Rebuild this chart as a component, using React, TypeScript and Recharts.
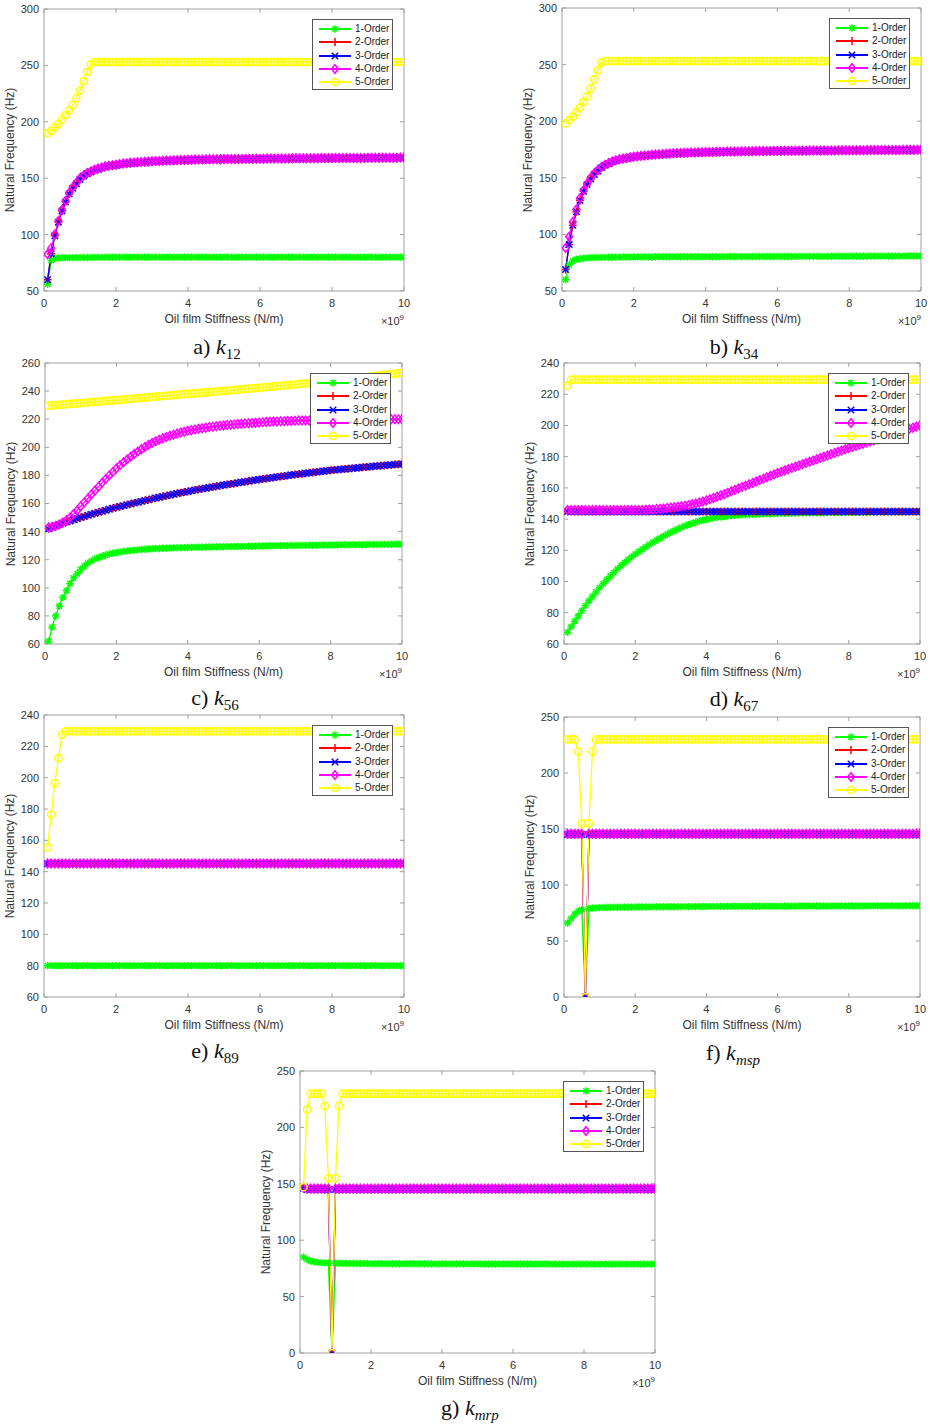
import React from 'react';
import { LineChart, Line, XAxis, YAxis } from 'recharts';

// Oil film stiffness (×10^9 N/m)
const X = [
  0.1, 0.2, 0.3, 0.4, 0.5, 0.6, 0.7, 0.8, 0.9, 1,
  1.1, 1.2, 1.3, 1.4, 1.5, 1.6, 1.7, 1.8, 1.9, 2,
  2.1, 2.2, 2.3, 2.4, 2.5, 2.6, 2.7, 2.8, 2.9, 3,
  3.1, 3.2, 3.3, 3.4, 3.5, 3.6, 3.7, 3.8, 3.9, 4,
  4.1, 4.2, 4.3, 4.4, 4.5, 4.6, 4.7, 4.8, 4.9, 5,
  5.1, 5.2, 5.3, 5.4, 5.5, 5.6, 5.7, 5.8, 5.9, 6,
  6.1, 6.2, 6.3, 6.4, 6.5, 6.6, 6.7, 6.8, 6.9, 7,
  7.1, 7.2, 7.3, 7.4, 7.5, 7.6, 7.7, 7.8, 7.9, 8,
  8.1, 8.2, 8.3, 8.4, 8.5, 8.6, 8.7, 8.8, 8.9, 9,
  9.1, 9.2, 9.3, 9.4, 9.5, 9.6, 9.7, 9.8, 9.9, 10,
];

const X_TICKS = [0, 2, 4, 6, 8, 10];
const Y_TICKS_50_300 = [50, 100, 150, 200, 250, 300];
const Y_TICKS_60_260 = [60, 80, 100, 120, 140, 160, 180, 200, 220, 240, 260];
const Y_TICKS_60_240 = [60, 80, 100, 120, 140, 160, 180, 200, 220, 240];
const Y_TICKS_0_250 = [0, 50, 100, 150, 200, 250];

const SERIES_NAMES = ['1-Order', '2-Order', '3-Order', '4-Order', '5-Order'];

// ---------- a) k12 ----------
const K12_G = [
  56, 77, 79, 79.3, 79.5, 79.5, 79.6, 79.6, 79.6, 79.7,
  79.7, 79.7, 79.8, 79.8, 79.8, 79.8, 79.9, 79.9, 79.9, 80,
  80, 80, 80, 80, 80, 80, 80, 80, 80, 80,
  80, 80, 80, 80, 80, 80, 80, 80, 80, 80,
  80, 80, 80, 80, 80, 80, 80, 80, 80, 80,
  80, 80, 80, 80, 80, 80, 80, 80, 80, 80,
  80, 80, 80, 80, 80, 80, 80, 80, 80, 80,
  80, 80, 80, 80, 80, 80, 80, 80, 80, 80,
  80, 80, 80, 80, 80, 80, 80, 80, 80, 80,
  80, 80, 80, 80, 80, 80, 80, 80, 80, 80,
];
const K12_RB = [
  60, 83, 99, 111, 121, 129, 136, 141, 145, 149,
  152, 154, 155.5, 157, 158, 159, 160, 160.5, 161, 161.5,
  162, 162.5, 162.8, 163.1, 163.4, 163.7, 163.9, 164.1, 164.3, 164.5,
  164.7, 164.8, 165, 165.1, 165.3, 165.4, 165.5, 165.6, 165.7, 165.8,
  165.9, 166, 166.1, 166.1, 166.2, 166.3, 166.3, 166.4, 166.4, 166.5,
  166.5, 166.5, 166.6, 166.6, 166.6, 166.7, 166.7, 166.7, 166.8, 166.8,
  166.8, 166.9, 166.9, 166.9, 167, 167, 167, 167, 167.1, 167.1,
  167.1, 167.1, 167.2, 167.2, 167.2, 167.2, 167.3, 167.3, 167.3, 167.3,
  167.4, 167.4, 167.4, 167.4, 167.5, 167.5, 167.5, 167.5, 167.5, 167.6,
  167.6, 167.6, 167.6, 167.6, 167.7, 167.7, 167.7, 167.7, 167.8, 167.8,
];
const K12_M = [
  82.5, 88, 100, 112, 122, 130, 137, 142, 146, 150,
  152.5, 154.5, 156, 157.5, 158.5, 159.5, 160.5, 161, 161.5, 162,
  162.5, 163, 163.3, 163.6, 163.9, 164.2, 164.4, 164.6, 164.8, 165,
  165.2, 165.3, 165.5, 165.6, 165.8, 165.9, 166, 166.1, 166.2, 166.3,
  166.4, 166.5, 166.6, 166.6, 166.7, 166.8, 166.8, 166.9, 166.9, 167,
  167, 167, 167.1, 167.1, 167.1, 167.2, 167.2, 167.2, 167.3, 167.3,
  167.3, 167.4, 167.4, 167.4, 167.5, 167.5, 167.5, 167.5, 167.6, 167.6,
  167.6, 167.6, 167.7, 167.7, 167.7, 167.7, 167.8, 167.8, 167.8, 167.8,
  167.9, 167.9, 167.9, 167.9, 168, 168, 168, 168, 168, 168.1,
  168.1, 168.1, 168.1, 168.1, 168.2, 168.2, 168.2, 168.2, 168.3, 168.3,
];
const K12_Y = [
  190, 192, 195, 198, 202, 206, 210, 215, 221, 228,
  236, 244, 251, 253, 253, 253, 253, 253, 253, 253,
  253, 253, 253, 253, 253, 253, 253, 253, 253, 253,
  253, 253, 253, 253, 253, 253, 253, 253, 253, 253,
  253, 253, 253, 253, 253, 253, 253, 253, 253, 253,
  253, 253, 253, 253, 253, 253, 253, 253, 253, 253,
  253, 253, 253, 253, 253, 253, 253, 253, 253, 253,
  253, 253, 253, 253, 253, 253, 253, 253, 253, 253,
  253, 253, 253, 253, 253, 253, 253, 253, 253, 253,
  253, 253, 253, 253, 253, 253, 253, 253, 253, 253,
];

// ---------- b) k34 ----------
const K34_G = [
  60, 73, 76.5, 78, 78.5, 79, 79.2, 79.4, 79.5, 79.6,
  79.7, 79.7, 79.8, 79.8, 79.9, 79.9, 80, 80, 80, 80,
  80.1, 80.1, 80.1, 80.1, 80.1, 80.2, 80.2, 80.2, 80.2, 80.2,
  80.2, 80.2, 80.2, 80.2, 80.2, 80.3, 80.3, 80.3, 80.3, 80.3,
  80.3, 80.3, 80.3, 80.3, 80.3, 80.4, 80.4, 80.4, 80.4, 80.4,
  80.4, 80.4, 80.4, 80.4, 80.4, 80.5, 80.5, 80.5, 80.5, 80.5,
  80.5, 80.5, 80.5, 80.5, 80.5, 80.6, 80.6, 80.6, 80.6, 80.6,
  80.6, 80.6, 80.6, 80.6, 80.6, 80.7, 80.7, 80.7, 80.7, 80.7,
  80.7, 80.7, 80.7, 80.7, 80.7, 80.8, 80.8, 80.8, 80.8, 80.8,
  80.8, 80.8, 80.8, 80.8, 80.8, 80.9, 80.9, 80.9, 80.9, 80.9,
];
const K34_RB = [
  69, 91, 108, 120, 130, 138, 144, 149, 153, 156,
  159, 161, 162.5, 164, 165, 165.8, 166.5, 167.1, 167.6, 168.1,
  168.5, 168.9, 169.2, 169.5, 169.8, 170.1, 170.3, 170.5, 170.7, 170.9,
  171.1, 171.3, 171.4, 171.6, 171.7, 171.8, 171.9, 172, 172.1, 172.2,
  172.3, 172.4, 172.5, 172.5, 172.6, 172.7, 172.7, 172.8, 172.8, 172.9,
  172.9, 173, 173, 173.1, 173.1, 173.2, 173.2, 173.2, 173.3, 173.3,
  173.3, 173.4, 173.4, 173.4, 173.5, 173.5, 173.5, 173.5, 173.6, 173.6,
  173.6, 173.6, 173.7, 173.7, 173.7, 173.7, 173.8, 173.8, 173.8, 173.8,
  173.9, 173.9, 173.9, 173.9, 174, 174, 174, 174, 174, 174.1,
  174.1, 174.1, 174.1, 174.1, 174.2, 174.2, 174.2, 174.2, 174.3, 174.3,
];
const K34_M = [
  88, 98, 111, 122, 132, 139, 145, 150, 154, 157,
  159.5, 161.5, 163, 164.5, 165.5, 166.3, 167, 167.6, 168.1, 168.6,
  169, 169.4, 169.7, 170, 170.3, 170.6, 170.8, 171, 171.2, 171.4,
  171.6, 171.8, 171.9, 172.1, 172.2, 172.3, 172.4, 172.5, 172.6, 172.7,
  172.8, 172.9, 173, 173, 173.1, 173.2, 173.2, 173.3, 173.3, 173.4,
  173.4, 173.5, 173.5, 173.6, 173.6, 173.7, 173.7, 173.7, 173.8, 173.8,
  173.8, 173.9, 173.9, 173.9, 174, 174, 174, 174, 174.1, 174.1,
  174.1, 174.1, 174.2, 174.2, 174.2, 174.2, 174.3, 174.3, 174.3, 174.3,
  174.4, 174.4, 174.4, 174.4, 174.5, 174.5, 174.5, 174.5, 174.5, 174.6,
  174.6, 174.6, 174.6, 174.6, 174.7, 174.7, 174.7, 174.7, 174.8, 174.8,
];
const K34_Y = [
  198, 201, 204, 208, 212, 217, 222, 229, 237, 245,
  252, 253, 253, 253, 253, 253, 253, 253, 253, 253,
  253, 253, 253, 253, 253, 253, 253, 253, 253, 253,
  253, 253, 253, 253, 253, 253, 253, 253, 253, 253,
  253, 253, 253, 253, 253, 253, 253, 253, 253, 253,
  253, 253, 253, 253, 253, 253, 253, 253, 253, 253,
  253, 253, 253, 253, 253, 253, 253, 253, 253, 253,
  253, 253, 253, 253, 253, 253, 253, 253, 253, 253,
  253, 253, 253, 253, 253, 253, 253, 253, 253, 253,
  253, 253, 253, 253, 253, 253, 253, 253, 253, 253,
];

// ---------- c) k56 ----------
const K56_G = [
  62, 72, 80, 87, 93, 98, 103, 107, 110, 113,
  115.5, 117.5, 119, 120.5, 121.5, 122.5, 123.3, 124, 124.6, 125.1,
  125.5, 125.9, 126.2, 126.5, 126.8, 127, 127.2, 127.4, 127.6, 127.8,
  127.9, 128, 128.1, 128.2, 128.3, 128.4, 128.5, 128.6, 128.6, 128.7,
  128.8, 128.8, 128.9, 128.9, 129, 129, 129.1, 129.1, 129.2, 129.2,
  129.3, 129.3, 129.4, 129.4, 129.5, 129.5, 129.6, 129.6, 129.7, 129.7,
  129.8, 129.8, 129.9, 129.9, 130, 130, 130, 130.1, 130.1, 130.1,
  130.2, 130.2, 130.2, 130.3, 130.3, 130.3, 130.4, 130.4, 130.4, 130.5,
  130.5, 130.5, 130.6, 130.6, 130.6, 130.7, 130.7, 130.7, 130.7, 130.8,
  130.8, 130.8, 130.8, 130.9, 130.9, 130.9, 130.9, 131, 131, 131,
];
const K56_RB = [
  142, 143, 144, 145, 146, 146.8, 147.6, 148.4, 149.2, 150,
  150.8, 151.6, 152.3, 153, 153.8, 154.5, 155.2, 155.9, 156.6, 157.3,
  157.9, 158.5, 159.1, 159.7, 160.3, 160.9, 161.5, 162.1, 162.7, 163.3,
  163.9, 164.4, 165, 165.5, 166, 166.6, 167.1, 167.6, 168.1, 168.6,
  169.1, 169.6, 170, 170.5, 170.9, 171.4, 171.8, 172.3, 172.7, 173.1,
  173.5, 173.9, 174.3, 174.7, 175.1, 175.5, 175.9, 176.3, 176.7, 177.1,
  177.5, 177.8, 178.2, 178.5, 178.9, 179.2, 179.6, 179.9, 180.3, 180.6,
  180.9, 181.2, 181.5, 181.8, 182.1, 182.4, 182.7, 183, 183.3, 183.6,
  183.8, 184.1, 184.3, 184.6, 184.8, 185.1, 185.3, 185.5, 185.8, 186,
  186.2, 186.5, 186.7, 186.9, 187.1, 187.3, 187.5, 187.7, 187.9, 188.1,
];
const K56_M = [
  143, 143.5, 144, 145, 146.5, 148, 150, 152.5, 155, 158,
  160.8, 163.6, 166.4, 169.2, 172, 174.7, 177.4, 180, 182.5, 185,
  187.2, 189.3, 191.3, 193.3, 195.2, 197, 198.7, 200.3, 201.8, 203.1,
  204.3, 205.4, 206.4, 207.3, 208.2, 209, 209.8, 210.5, 211.1, 211.7,
  212.2, 212.7, 213.2, 213.6, 214, 214.4, 214.7, 215, 215.3, 215.6,
  215.9, 216.1, 216.3, 216.5, 216.7, 216.9, 217.1, 217.3, 217.5, 217.7,
  217.9, 218, 218.1, 218.3, 218.4, 218.5, 218.6, 218.7, 218.8, 218.9,
  219, 219, 219.1, 219.1, 219.2, 219.2, 219.3, 219.3, 219.4, 219.4,
  219.5, 219.5, 219.5, 219.6, 219.6, 219.6, 219.7, 219.7, 219.7, 219.8,
  219.8, 219.8, 219.9, 219.9, 219.9, 220, 220, 220, 220, 220,
];
const K56_Y = [
  229.6, 229.8, 230, 230.2, 230.5, 230.7, 230.9, 231.1, 231.3, 231.5,
  231.7, 232, 232.2, 232.4, 232.6, 232.8, 233, 233.2, 233.4, 233.6,
  233.8, 234, 234.3, 234.5, 234.7, 234.9, 235.1, 235.4, 235.6, 235.8,
  236, 236.2, 236.5, 236.7, 236.9, 237.1, 237.3, 237.6, 237.8, 238,
  238.2, 238.4, 238.6, 238.9, 239.1, 239.3, 239.5, 239.7, 239.9, 240.2,
  240.4, 240.6, 240.8, 241, 241.2, 241.5, 241.7, 241.9, 242.1, 242.4,
  242.6, 242.8, 243.1, 243.3, 243.5, 243.8, 244, 244.2, 244.5, 244.7,
  244.9, 245.2, 245.4, 245.7, 245.9, 246.2, 246.4, 246.7, 246.9, 247.2,
  247.5, 247.7, 248, 248.3, 248.6, 248.8, 249.1, 249.4, 249.7, 250,
  250.3, 250.6, 250.9, 251.2, 251.5, 251.8, 252.1, 252.4, 252.7, 253,
];

// ---------- d) k67 ----------
const K67_G = [
  67.5, 71, 74.5, 78, 81.3, 84.5, 87.6, 90.5, 93.3, 96,
  98.6, 101.1, 103.5, 105.8, 108, 110.1, 112.1, 114, 115.8, 117.5,
  119.1, 120.7, 122.2, 123.7, 125.1, 126.5, 127.8, 129.1, 130.3, 131.5,
  132.6, 133.7, 134.7, 135.6, 136.5, 137.3, 138, 138.7, 139.3, 139.8,
  140.3, 140.7, 141.1, 141.4, 141.7, 142, 142.2, 142.4, 142.6, 142.8,
  142.9, 143, 143.1, 143.2, 143.3, 143.4, 143.5, 143.5, 143.6, 143.6,
  143.7, 143.7, 143.8, 143.8, 143.9, 143.9, 144, 144, 144, 144.1,
  144.1, 144.1, 144.1, 144.2, 144.2, 144.2, 144.2, 144.3, 144.3, 144.3,
  144.3, 144.3, 144.4, 144.4, 144.4, 144.4, 144.5, 144.5, 144.5, 144.5,
  144.5, 144.5, 144.5, 144.6, 144.6, 144.6, 144.6, 144.7, 144.7, 144.7,
];
const K67_RB = [
  144.8, 144.8, 144.8, 144.8, 144.8, 144.8, 144.8, 144.8, 144.8, 144.8,
  144.8, 144.8, 144.8, 144.8, 144.8, 144.8, 144.8, 144.8, 144.8, 144.8,
  144.8, 144.8, 144.8, 144.8, 144.8, 144.8, 144.8, 144.8, 144.8, 144.8,
  144.8, 144.8, 144.8, 144.8, 144.8, 144.8, 144.8, 144.8, 144.8, 144.8,
  144.8, 144.8, 144.8, 144.8, 144.8, 144.8, 144.8, 144.8, 144.8, 144.8,
  144.8, 144.8, 144.8, 144.8, 144.8, 144.8, 144.8, 144.8, 144.8, 144.8,
  144.8, 144.8, 144.8, 144.8, 144.8, 144.8, 144.8, 144.8, 144.8, 144.8,
  144.8, 144.8, 144.8, 144.8, 144.8, 144.8, 144.8, 144.8, 144.8, 144.8,
  144.8, 144.8, 144.8, 144.8, 144.8, 144.8, 144.8, 144.8, 144.8, 144.8,
  144.8, 144.8, 144.8, 144.8, 144.8, 144.8, 144.8, 144.8, 144.8, 144.8,
];
const K67_M = [
  145.8, 145.8, 145.8, 145.8, 145.8, 145.8, 145.8, 145.8, 145.8, 145.8,
  145.8, 145.8, 145.8, 145.8, 145.8, 145.8, 145.8, 145.8, 145.8, 145.8,
  145.8, 145.9, 146, 146.1, 146.2, 146.4, 146.6, 146.8, 147.1, 147.4,
  147.6, 147.9, 148.2, 148.6, 149, 149.5, 150, 150.6, 151.3, 152,
  152.8, 153.6, 154.4, 155.2, 156, 156.9, 157.8, 158.7, 159.6, 160.5,
  161.4, 162.3, 163.2, 164.1, 165, 165.9, 166.8, 167.7, 168.6, 169.5,
  170.3, 171.1, 171.9, 172.7, 173.5, 174.3, 175.1, 175.9, 176.7, 177.5,
  178.3, 179.1, 179.9, 180.7, 181.5, 182.3, 183.1, 183.9, 184.7, 185.5,
  186.2, 186.9, 187.6, 188.3, 189, 189.7, 190.4, 191.1, 191.8, 192.5,
  193.3, 194.1, 194.9, 195.7, 196.5, 197.2, 197.9, 198.6, 199.3, 200,
];
const K67_Y = [
  225.5, 229.3, 229.3, 229.3, 229.3, 229.3, 229.3, 229.3, 229.3, 229.3,
  229.3, 229.3, 229.3, 229.3, 229.3, 229.3, 229.3, 229.3, 229.3, 229.3,
  229.3, 229.3, 229.3, 229.3, 229.3, 229.3, 229.3, 229.3, 229.3, 229.3,
  229.3, 229.3, 229.3, 229.3, 229.3, 229.3, 229.3, 229.3, 229.3, 229.3,
  229.3, 229.3, 229.3, 229.3, 229.3, 229.3, 229.3, 229.3, 229.3, 229.3,
  229.3, 229.3, 229.3, 229.3, 229.3, 229.3, 229.3, 229.3, 229.3, 229.3,
  229.3, 229.3, 229.3, 229.3, 229.3, 229.3, 229.3, 229.3, 229.3, 229.3,
  229.3, 229.3, 229.3, 229.3, 229.3, 229.3, 229.3, 229.3, 229.3, 229.3,
  229.3, 229.3, 229.3, 229.3, 229.3, 229.3, 229.3, 229.3, 229.3, 229.3,
  229.3, 229.3, 229.3, 229.3, 229.3, 229.3, 229.3, 229.3, 229.3, 229.3,
];

// ---------- e) k89 ----------
const K89_G = [
  80, 80, 80, 80, 80, 80, 80, 80, 80, 80,
  80, 80, 80, 80, 80, 80, 80, 80, 80, 80,
  80, 80, 80, 80, 80, 80, 80, 80, 80, 80,
  80, 80, 80, 80, 80, 80, 80, 80, 80, 80,
  80, 80, 80, 80, 80, 80, 80, 80, 80, 80,
  80, 80, 80, 80, 80, 80, 80, 80, 80, 80,
  80, 80, 80, 80, 80, 80, 80, 80, 80, 80,
  80, 80, 80, 80, 80, 80, 80, 80, 80, 80,
  80, 80, 80, 80, 80, 80, 80, 80, 80, 80,
  80, 80, 80, 80, 80, 80, 80, 80, 80, 80,
];
const K89_RB = [
  145, 145, 145, 145, 145, 145, 145, 145, 145, 145,
  145, 145, 145, 145, 145, 145, 145, 145, 145, 145,
  145, 145, 145, 145, 145, 145, 145, 145, 145, 145,
  145, 145, 145, 145, 145, 145, 145, 145, 145, 145,
  145, 145, 145, 145, 145, 145, 145, 145, 145, 145,
  145, 145, 145, 145, 145, 145, 145, 145, 145, 145,
  145, 145, 145, 145, 145, 145, 145, 145, 145, 145,
  145, 145, 145, 145, 145, 145, 145, 145, 145, 145,
  145, 145, 145, 145, 145, 145, 145, 145, 145, 145,
  145, 145, 145, 145, 145, 145, 145, 145, 145, 145,
];
const K89_M = [
  145.2, 145.2, 145.2, 145.2, 145.2, 145.2, 145.2, 145.2, 145.2, 145.2,
  145.2, 145.2, 145.2, 145.2, 145.2, 145.2, 145.2, 145.2, 145.2, 145.2,
  145.2, 145.2, 145.2, 145.2, 145.2, 145.2, 145.2, 145.2, 145.2, 145.2,
  145.2, 145.2, 145.2, 145.2, 145.2, 145.2, 145.2, 145.2, 145.2, 145.2,
  145.2, 145.2, 145.2, 145.2, 145.2, 145.2, 145.2, 145.2, 145.2, 145.2,
  145.2, 145.2, 145.2, 145.2, 145.2, 145.2, 145.2, 145.2, 145.2, 145.2,
  145.2, 145.2, 145.2, 145.2, 145.2, 145.2, 145.2, 145.2, 145.2, 145.2,
  145.2, 145.2, 145.2, 145.2, 145.2, 145.2, 145.2, 145.2, 145.2, 145.2,
  145.2, 145.2, 145.2, 145.2, 145.2, 145.2, 145.2, 145.2, 145.2, 145.2,
  145.2, 145.2, 145.2, 145.2, 145.2, 145.2, 145.2, 145.2, 145.2, 145.2,
];
const K89_Y = [
  155.5, 176.5, 196.5, 212.5, 227.5, 229.6, 229.6, 229.6, 229.6, 229.6,
  229.6, 229.6, 229.6, 229.6, 229.6, 229.6, 229.6, 229.6, 229.6, 229.6,
  229.6, 229.6, 229.6, 229.6, 229.6, 229.6, 229.6, 229.6, 229.6, 229.6,
  229.6, 229.6, 229.6, 229.6, 229.6, 229.6, 229.6, 229.6, 229.6, 229.6,
  229.6, 229.6, 229.6, 229.6, 229.6, 229.6, 229.6, 229.6, 229.6, 229.6,
  229.6, 229.6, 229.6, 229.6, 229.6, 229.6, 229.6, 229.6, 229.6, 229.6,
  229.6, 229.6, 229.6, 229.6, 229.6, 229.6, 229.6, 229.6, 229.6, 229.6,
  229.6, 229.6, 229.6, 229.6, 229.6, 229.6, 229.6, 229.6, 229.6, 229.6,
  229.6, 229.6, 229.6, 229.6, 229.6, 229.6, 229.6, 229.6, 229.6, 229.6,
  229.6, 229.6, 229.6, 229.6, 229.6, 229.6, 229.6, 229.6, 229.6, 229.6,
];

// ---------- f) kmsp ----------
const KMSP_G = [
  66, 70, 74, 76.5, 78, 0, 79, 79.4, 79.6, 79.8,
  79.9, 80, 80, 80.1, 80.1, 80.2, 80.2, 80.2, 80.3, 80.3,
  80.3, 80.4, 80.4, 80.4, 80.5, 80.5, 80.5, 80.5, 80.6, 80.6,
  80.6, 80.6, 80.7, 80.7, 80.7, 80.7, 80.8, 80.8, 80.8, 80.8,
  80.9, 80.9, 80.9, 80.9, 80.9, 81, 81, 81, 81, 81,
  81, 81, 81, 81, 81, 81.1, 81.1, 81.1, 81.1, 81.1,
  81.1, 81.1, 81.1, 81.1, 81.1, 81.2, 81.2, 81.2, 81.2, 81.2,
  81.2, 81.2, 81.2, 81.2, 81.2, 81.3, 81.3, 81.3, 81.3, 81.3,
  81.3, 81.3, 81.3, 81.3, 81.3, 81.4, 81.4, 81.4, 81.4, 81.4,
  81.4, 81.4, 81.4, 81.4, 81.4, 81.5, 81.5, 81.5, 81.5, 81.5,
];
const KMSP_RB = [
  145, 145, 145, 145, 145, 0, 145, 145, 145, 145,
  145, 145, 145, 145, 145, 145, 145, 145, 145, 145,
  145, 145, 145, 145, 145, 145, 145, 145, 145, 145,
  145, 145, 145, 145, 145, 145, 145, 145, 145, 145,
  145, 145, 145, 145, 145, 145, 145, 145, 145, 145,
  145, 145, 145, 145, 145, 145, 145, 145, 145, 145,
  145, 145, 145, 145, 145, 145, 145, 145, 145, 145,
  145, 145, 145, 145, 145, 145, 145, 145, 145, 145,
  145, 145, 145, 145, 145, 145, 145, 145, 145, 145,
  145, 145, 145, 145, 145, 145, 145, 145, 145, 145,
];
const KMSP_M = [
  145.8, 145.8, 145.8, 145.8, 145.8, 0, 145.8, 145.8, 145.8, 145.8,
  145.8, 145.8, 145.8, 145.8, 145.8, 145.8, 145.8, 145.8, 145.8, 145.8,
  145.8, 145.8, 145.8, 145.8, 145.8, 145.8, 145.8, 145.8, 145.8, 145.8,
  145.8, 145.8, 145.8, 145.8, 145.8, 145.8, 145.8, 145.8, 145.8, 145.8,
  145.8, 145.8, 145.8, 145.8, 145.8, 145.8, 145.8, 145.8, 145.8, 145.8,
  145.8, 145.8, 145.8, 145.8, 145.8, 145.8, 145.8, 145.8, 145.8, 145.8,
  145.8, 145.8, 145.8, 145.8, 145.8, 145.8, 145.8, 145.8, 145.8, 145.8,
  145.8, 145.8, 145.8, 145.8, 145.8, 145.8, 145.8, 145.8, 145.8, 145.8,
  145.8, 145.8, 145.8, 145.8, 145.8, 145.8, 145.8, 145.8, 145.8, 145.8,
  145.8, 145.8, 145.8, 145.8, 145.8, 145.8, 145.8, 145.8, 145.8, 145.8,
];
const KMSP_Y = [
  230, 230, 230, 219, 155, 0, 155, 219, 230, 230,
  230, 230, 230, 230, 230, 230, 230, 230, 230, 230,
  230, 230, 230, 230, 230, 230, 230, 230, 230, 230,
  230, 230, 230, 230, 230, 230, 230, 230, 230, 230,
  230, 230, 230, 230, 230, 230, 230, 230, 230, 230,
  230, 230, 230, 230, 230, 230, 230, 230, 230, 230,
  230, 230, 230, 230, 230, 230, 230, 230, 230, 230,
  230, 230, 230, 230, 230, 230, 230, 230, 230, 230,
  230, 230, 230, 230, 230, 230, 230, 230, 230, 230,
  230, 230, 230, 230, 230, 230, 230, 230, 230, 230,
];

// ---------- g) kmrp ----------
const KMRP_G = [
  85, 83, 81.5, 80.8, 80.4, 80.1, 79.9, 79.8, 0, 79.6,
  79.5, 79.5, 79.4, 79.4, 79.4, 79.3, 79.3, 79.3, 79.3, 79.2,
  79.2, 79.2, 79.2, 79.2, 79.2, 79.1, 79.1, 79.1, 79.1, 79.1,
  79.1, 79.1, 79.1, 79.1, 79.1, 79, 79, 79, 79, 79,
  79, 79, 79, 79, 79, 79, 79, 79, 79, 79,
  78.9, 78.9, 78.9, 78.9, 78.9, 78.9, 78.9, 78.9, 78.9, 78.9,
  78.9, 78.9, 78.9, 78.9, 78.9, 78.9, 78.9, 78.9, 78.9, 78.9,
  78.8, 78.8, 78.8, 78.8, 78.8, 78.8, 78.8, 78.8, 78.8, 78.8,
  78.8, 78.8, 78.8, 78.8, 78.8, 78.8, 78.8, 78.8, 78.8, 78.8,
  78.8, 78.8, 78.8, 78.8, 78.8, 78.8, 78.8, 78.8, 78.8, 78.8,
];
const KMRP_RB = [
  146, 145, 145, 145, 145, 145, 145, 145, 0, 145,
  145, 145, 145, 145, 145, 145, 145, 145, 145, 145,
  145, 145, 145, 145, 145, 145, 145, 145, 145, 145,
  145, 145, 145, 145, 145, 145, 145, 145, 145, 145,
  145, 145, 145, 145, 145, 145, 145, 145, 145, 145,
  145, 145, 145, 145, 145, 145, 145, 145, 145, 145,
  145, 145, 145, 145, 145, 145, 145, 145, 145, 145,
  145, 145, 145, 145, 145, 145, 145, 145, 145, 145,
  145, 145, 145, 145, 145, 145, 145, 145, 145, 145,
  145, 145, 145, 145, 145, 145, 145, 145, 145, 145,
];
const KMRP_M = [
  146.5, 145.8, 145.8, 145.8, 145.8, 145.8, 145.8, 145.8, 0, 145.8,
  145.8, 145.8, 145.8, 145.8, 145.8, 145.8, 145.8, 145.8, 145.8, 145.8,
  145.8, 145.8, 145.8, 145.8, 145.8, 145.8, 145.8, 145.8, 145.8, 145.8,
  145.8, 145.8, 145.8, 145.8, 145.8, 145.8, 145.8, 145.8, 145.8, 145.8,
  145.8, 145.8, 145.8, 145.8, 145.8, 145.8, 145.8, 145.8, 145.8, 145.8,
  145.8, 145.8, 145.8, 145.8, 145.8, 145.8, 145.8, 145.8, 145.8, 145.8,
  145.8, 145.8, 145.8, 145.8, 145.8, 145.8, 145.8, 145.8, 145.8, 145.8,
  145.8, 145.8, 145.8, 145.8, 145.8, 145.8, 145.8, 145.8, 145.8, 145.8,
  145.8, 145.8, 145.8, 145.8, 145.8, 145.8, 145.8, 145.8, 145.8, 145.8,
  145.8, 145.8, 145.8, 145.8, 145.8, 145.8, 145.8, 145.8, 145.8, 145.8,
];
const KMRP_Y = [
  147, 216, 230, 230, 230, 230, 219, 155, 0, 155,
  219, 230, 230, 230, 230, 230, 230, 230, 230, 230,
  230, 230, 230, 230, 230, 230, 230, 230, 230, 230,
  230, 230, 230, 230, 230, 230, 230, 230, 230, 230,
  230, 230, 230, 230, 230, 230, 230, 230, 230, 230,
  230, 230, 230, 230, 230, 230, 230, 230, 230, 230,
  230, 230, 230, 230, 230, 230, 230, 230, 230, 230,
  230, 230, 230, 230, 230, 230, 230, 230, 230, 230,
  230, 230, 230, 230, 230, 230, 230, 230, 230, 230,
  230, 230, 230, 230, 230, 230, 230, 230, 230, 230,
];

// ---------- styling ----------
const COLORS = { g: '#00ff00', r: '#ff0000', b: '#0000ff', m: '#ff00ff', y: '#ffff00' };
const SHAPES = { g: 'star', r: 'plus', b: 'cross', m: 'diamond', y: 'circle' };
const KEYS = ['g', 'r', 'b', 'm', 'y'];
const SANS = '"Liberation Sans", Arial, Helvetica, sans-serif';
const SERIF = '"Liberation Serif", "DejaVu Serif", serif';
const AXIS_COLOR = '#a0a0a0';
const TEXT_COLOR = '#333';

const Marker = ({ shape, color, cx, cy }: any) => {
  const sw = 1.5;
  if (shape === 'star') {
    const s = 3.7, d = 2.7;
    return (
      <g stroke={color} strokeWidth={sw}>
        <line x1={cx - s} y1={cy} x2={cx + s} y2={cy} />
        <line x1={cx} y1={cy - s} x2={cx} y2={cy + s} />
        <line x1={cx - d} y1={cy - d} x2={cx + d} y2={cy + d} />
        <line x1={cx - d} y1={cy + d} x2={cx + d} y2={cy - d} />
      </g>
    );
  }
  if (shape === 'plus') {
    const s = 4;
    return (
      <g stroke={color} strokeWidth={sw}>
        <line x1={cx - s} y1={cy} x2={cx + s} y2={cy} />
        <line x1={cx} y1={cy - s} x2={cx} y2={cy + s} />
      </g>
    );
  }
  if (shape === 'cross') {
    const s = 3.2;
    return (
      <g stroke={color} strokeWidth={sw}>
        <line x1={cx - s} y1={cy - s} x2={cx + s} y2={cy + s} />
        <line x1={cx - s} y1={cy + s} x2={cx + s} y2={cy - s} />
      </g>
    );
  }
  if (shape === 'diamond') {
    const s = 4.3;
    return (
      <polygon
        points={`${cx},${cy - s} ${cx + s * 0.8},${cy} ${cx},${cy + s} ${cx - s * 0.8},${cy}`}
        fill="none"
        stroke={color}
        strokeWidth={sw}
      />
    );
  }
  return <circle cx={cx} cy={cy} r={3.6} fill="none" stroke={color} strokeWidth={sw} />;
};

const dotFn = (k: string) => (p: any) => {
  if (p.cx == null || p.cy == null) return <g key={`e${p.index}`} />;
  return <Marker key={`d${p.index}`} shape={SHAPES[k]} color={COLORS[k]} cx={p.cx} cy={p.cy} />;
};

const noTick = () => <g />;

const LegendBox = ({ left, top }: any) => (
  <div
    style={{
      position: 'absolute',
      left,
      top,
      width: 81,
      height: 71,
      boxSizing: 'border-box',
      border: '1px solid #555',
      background: '#fff',
    }}
  >
    {KEYS.map((k, i) => (
      <div key={k} style={{ position: 'absolute', left: 0, top: 9 + i * 13.3 - 7, height: 14, width: 80 }}>
        <svg width={42} height={14} style={{ position: 'absolute', left: 0, top: 0 }}>
          <line x1={6} x2={38} y1={7} y2={7} stroke={COLORS[k]} strokeWidth={2} />
          <Marker shape={SHAPES[k]} color={COLORS[k]} cx={22} cy={7} />
        </svg>
        <span
          style={{
            position: 'absolute',
            left: 42,
            top: 0,
            fontSize: 10,
            lineHeight: '14px',
            fontFamily: SANS,
            color: '#222',
            whiteSpace: 'nowrap',
          }}
        >
          {SERIES_NAMES[i]}
        </span>
      </div>
    ))}
  </div>
);

const ML = 60, MT = 12, MR = 16, MB = 40;

const Panel = ({ p }: any) => {
  const { plot } = p;
  const rows = X.map((x, i) => ({ x, g: p.g[i], r: p.rb[i], b: p.rb[i], m: p.m[i], y: p.y[i] }));
  const W = plot.w + ML + MR;
  const H = plot.h + MT + MB;
  const common = { stroke: AXIS_COLOR, tickSize: -4, allowDataOverflow: true, interval: 0 } as any;
  return (
    <>
      <div style={{ position: 'absolute', left: plot.x - ML, top: plot.y - MT }}>
        <LineChart width={W} height={H} data={rows} margin={{ top: MT - 1, right: MR - 1, bottom: 0, left: 0 }}>
          <XAxis
            {...common}
            xAxisId="b"
            dataKey="x"
            type="number"
            domain={[0, 10]}
            ticks={X_TICKS}
            height={MB}
            tickMargin={12}
            tick={{ fill: TEXT_COLOR, fontSize: 11, fontFamily: SANS }}
          />
          <XAxis
            {...common}
            xAxisId="t"
            orientation="top"
            dataKey="x"
            type="number"
            domain={[0, 10]}
            ticks={X_TICKS}
            height={1}
            tick={noTick}
          />
          <YAxis
            {...common}
            yAxisId="l"
            type="number"
            domain={p.yDomain}
            ticks={p.yTicks}
            width={ML}
            tickMargin={9}
            tick={{ fill: TEXT_COLOR, fontSize: 11, fontFamily: SANS }}
          />
          <YAxis
            {...common}
            yAxisId="r"
            orientation="right"
            type="number"
            domain={p.yDomain}
            ticks={p.yTicks}
            width={1}
            tick={noTick}
          />
          {KEYS.map((k) => (
            <Line
              key={k}
              xAxisId="b"
              yAxisId="l"
              dataKey={k}
              stroke={COLORS[k]}
              strokeWidth={1.3}
              dot={dotFn(k)}
              activeDot={false}
              isAnimationActive={false}
              type="linear"
            />
          ))}
        </LineChart>
      </div>
      <LegendBox left={plot.x + plot.w - 11 - 81} top={plot.y + 10} />
      <div
        style={{
          position: 'absolute',
          left: plot.x - 34,
          top: plot.y + plot.h / 2,
          transform: 'translate(-50%, -50%) rotate(-90deg)',
          fontSize: 12,
          fontFamily: SANS,
          color: TEXT_COLOR,
          whiteSpace: 'nowrap',
        }}
      >
        Natural Frequency (Hz)
      </div>
      <div
        style={{
          position: 'absolute',
          left: plot.x + plot.w / 2,
          top: plot.y + plot.h + 28,
          transform: 'translate(-50%, -50%)',
          fontSize: 12,
          fontFamily: SANS,
          color: TEXT_COLOR,
          whiteSpace: 'nowrap',
        }}
      >
        Oil film Stiffness (N/m)
      </div>
      <div
        style={{
          position: 'absolute',
          left: plot.x + plot.w - 40,
          width: 40,
          textAlign: 'right',
          top: plot.y + plot.h + 23,
          fontSize: 11,
          lineHeight: '14px',
          fontFamily: SANS,
          color: TEXT_COLOR,
          whiteSpace: 'nowrap',
        }}
      >
        ×10<sup style={{ fontSize: 8, verticalAlign: '5px', lineHeight: 0 }}>9</sup>
      </div>
      <div
        style={{
          position: 'absolute',
          left: p.cap.x - 100,
          top: p.cap.y - 16,
          width: 200,
          height: 32,
          lineHeight: '32px',
          textAlign: 'center',
          fontFamily: SERIF,
          fontSize: 22,
          color: '#111',
          whiteSpace: 'nowrap',
        }}
      >
        {p.label}{' '}
        <i>k</i>
        <sub style={{ fontSize: 15, lineHeight: 0, verticalAlign: '-5px', fontStyle: p.subItalic ? 'italic' : 'normal' }}>
          {p.sub}
        </sub>
      </div>
    </>
  );
};

const PANELS = [
  { id: 'a', label: 'a)', sub: '12', subItalic: false, plot: { x: 44, y: 9, w: 360, h: 282 }, yDomain: [50, 300], yTicks: Y_TICKS_50_300, g: K12_G, rb: K12_RB, m: K12_M, y: K12_Y, cap: { x: 217, y: 347 } },
  { id: 'b', label: 'b)', sub: '34', subItalic: false, plot: { x: 562, y: 8, w: 359, h: 283 }, yDomain: [50, 300], yTicks: Y_TICKS_50_300, g: K34_G, rb: K34_RB, m: K34_M, y: K34_Y, cap: { x: 734, y: 347 } },
  { id: 'c', label: 'c)', sub: '56', subItalic: false, plot: { x: 45, y: 363, w: 357, h: 281 }, yDomain: [60, 260], yTicks: Y_TICKS_60_260, g: K56_G, rb: K56_RB, m: K56_M, y: K56_Y, cap: { x: 215, y: 698 } },
  { id: 'd', label: 'd)', sub: '67', subItalic: false, plot: { x: 564, y: 363, w: 356, h: 281 }, yDomain: [60, 240], yTicks: Y_TICKS_60_240, g: K67_G, rb: K67_RB, m: K67_M, y: K67_Y, cap: { x: 734, y: 699 } },
  { id: 'e', label: 'e)', sub: '89', subItalic: false, plot: { x: 44, y: 715, w: 360, h: 282 }, yDomain: [60, 240], yTicks: Y_TICKS_60_240, g: K89_G, rb: K89_RB, m: K89_M, y: K89_Y, cap: { x: 215, y: 1051 } },
  { id: 'f', label: 'f)', sub: 'msp', subItalic: true, plot: { x: 564, y: 717, w: 356, h: 280 }, yDomain: [0, 250], yTicks: Y_TICKS_0_250, g: KMSP_G, rb: KMSP_RB, m: KMSP_M, y: KMSP_Y, cap: { x: 733, y: 1053 } },
  { id: 'g', label: 'g)', sub: 'mrp', subItalic: true, plot: { x: 300, y: 1071, w: 355, h: 282 }, yDomain: [0, 250], yTicks: Y_TICKS_0_250, g: KMRP_G, rb: KMRP_RB, m: KMRP_M, y: KMRP_Y, cap: { x: 470, y: 1408 } },
];

export default function App() {
  return (
    <div
      style={{
        position: 'absolute',
        left: 0,
        top: 0,
        width: 930,
        height: 1425,
        background: '#fff',
        overflow: 'hidden',
        fontFamily: SANS,
      }}
    >
      {PANELS.map((p) => (
        <Panel key={p.id} p={p} />
      ))}
    </div>
  );
}
